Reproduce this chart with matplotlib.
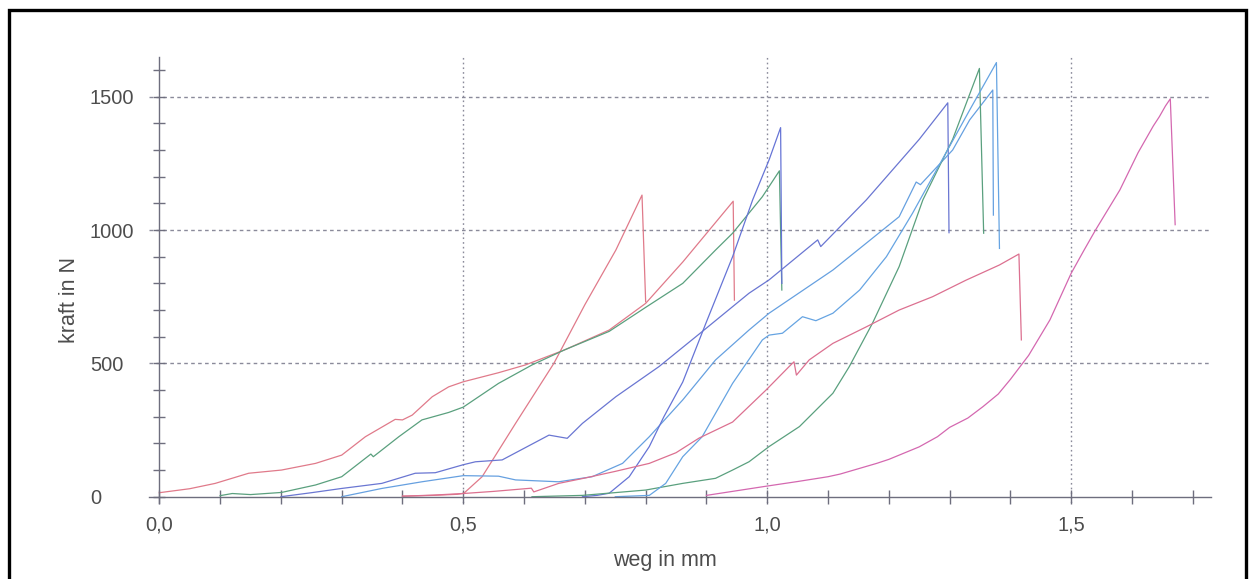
import matplotlib.pyplot as plt
from matplotlib.patches import Rectangle
from matplotlib.ticker import MultipleLocator, FixedLocator, FuncFormatter

# kraft-weg kurven (weg in mm, kraft in N)
red1_x = [0.0, 0.05, 0.092, 0.147, 0.201, 0.257, 0.300, 0.339, 0.388, 0.400, 0.416, 0.449, 0.476, 0.500,
          0.558, 0.602, 0.666, 0.740, 0.800, 0.861, 0.944, 0.946]
red1_y = [15, 30, 50, 88, 100, 125, 156, 225, 290, 288, 306, 375, 412, 431,
          465, 494, 550, 625, 725, 880, 1108, 737]

red2_x = [0.40, 0.45, 0.49, 0.501, 0.531, 0.586, 0.649, 0.700, 0.751, 0.794, 0.800]
red2_y = [2, 5, 9, 13, 75, 275, 500, 720, 925, 1131, 731]

red3_x = [0.40, 0.45, 0.50, 0.55, 0.612, 0.616, 0.657, 0.70, 0.75, 0.806, 0.85, 0.888, 0.943, 0.998,
          1.036, 1.044, 1.048, 1.069, 1.108, 1.163, 1.217, 1.272, 1.327, 1.382, 1.414, 1.418]
red3_y = [2, 6, 12, 20, 32, 18, 50, 70, 95, 125, 165, 220, 280, 400,
          488, 506, 456, 513, 575, 637, 700, 750, 812, 869, 910, 588]

green1_x = [0.100, 0.12, 0.15, 0.201, 0.257, 0.300, 0.348, 0.352, 0.394, 0.432, 0.476, 0.500, 0.558,
            0.613, 0.666, 0.740, 0.800, 0.861, 0.915, 0.943, 0.992, 1.020, 1.024]
green1_y = [4, 12, 8, 16, 44, 75, 160, 150, 225, 288, 316, 336, 425,
            494, 550, 620, 710, 800, 925, 988, 1125, 1222, 775]

blue1_x = [0.696, 0.72, 0.740, 0.773, 0.806, 0.83, 0.861, 0.899, 0.943, 0.976, 1.003, 1.022, 1.024]
blue1_y = [0, 5, 13, 75, 188, 300, 430, 650, 900, 1113, 1263, 1384, 800]

blue2_x = [0.20, 0.25, 0.300, 0.366, 0.421, 0.454, 0.500, 0.520, 0.564, 0.641, 0.671, 0.696, 0.751,
           0.822, 0.888, 0.970, 1.003, 1.083, 1.088, 1.163, 1.250, 1.297, 1.299]
blue2_y = [0, 15, 31, 50, 88, 90, 120, 131, 138, 231, 219, 275, 375,
           488, 610, 763, 813, 963, 938, 1113, 1340, 1477, 990]

lblue1_x = [0.30, 0.366, 0.432, 0.500, 0.558, 0.586, 0.657, 0.712, 0.762, 0.806, 0.861, 0.915, 0.970,
            1.003, 1.108, 1.217, 1.245, 1.252, 1.305, 1.333, 1.371, 1.372]
lblue1_y = [0, 31, 56, 79, 77, 63, 56, 75, 125, 225, 363, 513, 625,
            688, 850, 1050, 1180, 1170, 1300, 1413, 1525, 1056]

lblue2_x = [0.75, 0.806, 0.833, 0.861, 0.893, 0.943, 0.992, 1.003, 1.025, 1.058, 1.080, 1.108, 1.152,
            1.196, 1.239, 1.333, 1.377, 1.382]
lblue2_y = [0, 5, 50, 150, 225, 425, 588, 606, 613, 675, 660, 688, 775,
            900, 1063, 1450, 1628, 931]

green2_x = [0.613, 0.696, 0.800, 0.861, 0.915, 0.943, 0.970, 1.003, 1.053, 1.108, 1.135, 1.173, 1.217,
            1.256, 1.305, 1.349, 1.356]
green2_y = [0, 5, 25, 50, 69, 100, 131, 188, 263, 388, 488, 650, 863,
            1113, 1340, 1606, 988]

mag_x = [0.90, 1.0, 1.05, 1.1, 1.12, 1.15, 1.18, 1.2, 1.25, 1.28, 1.3, 1.33, 1.355, 1.38, 1.4, 1.43,
         1.465, 1.5, 1.52, 1.54, 1.56, 1.58, 1.595, 1.61, 1.625, 1.635, 1.645, 1.655, 1.663, 1.671]
mag_y = [5, 40, 57, 75, 85, 105, 125, 140, 187, 225, 260, 295, 338, 385, 440, 530,
         663, 838, 920, 1000, 1075, 1150, 1220, 1290, 1350, 1390, 1425, 1465, 1492, 1020]

curves = [
    (red1_x, red1_y, '#e07a8a'),
    (red2_x, red2_y, '#e07a8a'),
    (green1_x, green1_y, '#5aa07e'),
    (blue2_x, blue2_y, '#6a76d2'),
    (lblue1_x, lblue1_y, '#66a0e0'),
    (blue1_x, blue1_y, '#6674d6'),
    (green2_x, green2_y, '#5aa07e'),
    (lblue2_x, lblue2_y, '#66a4e2'),
    (red3_x, red3_y, '#dc7090'),
    (mag_x, mag_y, '#d468b0'),
]

ax_col = '#6e6e7e'
txt_col = '#4d4d4d'


def main():
    plt.rcParams['font.family'] = ['Liberation Sans', 'DejaVu Sans']
    fig = plt.figure(figsize=(12.53, 5.79), dpi=100)
    ax = fig.add_axes([0.1189, 0.1306, 0.8476, 0.7715])

    for xs, ys, c in curves:
        ax.plot(xs, ys, color=c, lw=0.9)

    ax.set_xlim(-0.017, 1.73)
    ax.set_ylim(-25, 1650)

    # raster
    for gx in [0.5, 1.0, 1.5]:
        ax.axvline(gx, color='#8a8a9a', lw=1.0, ls=(0, (1.2, 2.2)), zorder=0)
    for gy in [500, 1000, 1500]:
        ax.axhline(gy, color='#8a8a9a', lw=1.0, ls=(0, (2.6, 2.4)), zorder=0)

    for s in ['top', 'right']:
        ax.spines[s].set_visible(False)
    ax.spines['left'].set_position(('data', 0))
    ax.spines['bottom'].set_position(('data', 0))
    for s in ['left', 'bottom']:
        ax.spines[s].set_color(ax_col)
        ax.spines[s].set_linewidth(1.0)

    ax.xaxis.set_major_locator(FixedLocator([0.0, 0.5, 1.0, 1.5]))
    ax.xaxis.set_minor_locator(MultipleLocator(0.1))
    ax.yaxis.set_major_locator(FixedLocator([0, 500, 1000, 1500]))
    ax.yaxis.set_minor_locator(MultipleLocator(100))
    ax.xaxis.set_major_formatter(FuncFormatter(lambda v, p: f'{v:.1f}'.replace('.', ',')))

    ax.tick_params(axis='x', which='both', direction='inout', length=10, width=1.0,
                   color=ax_col, labelsize=14.4, labelcolor=txt_col, pad=8.7)
    ax.tick_params(axis='y', which='both', direction='inout', length=9, width=1.0,
                   color=ax_col, labelsize=14.4, labelcolor=txt_col, pad=45.5)
    for lab in ax.get_yticklabels():
        lab.set_horizontalalignment('left')

    ax.set_xlabel('weg in mm', fontsize=15.5, color=txt_col)
    ax.xaxis.label.set_verticalalignment('center')
    ax.xaxis.set_label_coords(0.486, -0.127)
    ax.set_ylabel('kraft in N', fontsize=15.5, color=txt_col)
    ax.yaxis.label.set(va='center', ha='center', rotation_mode='default')
    ax.yaxis.set_label_coords(-0.0744, 0.455)

    # rahmen
    fig.patches.append(Rectangle((0.0072, -0.02), 0.9874, 1.0028, transform=fig.transFigure,
                                 fill=False, edgecolor='black', lw=2.4))

    plt.savefig('out.png', dpi=100)


if __name__ == "__main__":
    main()
